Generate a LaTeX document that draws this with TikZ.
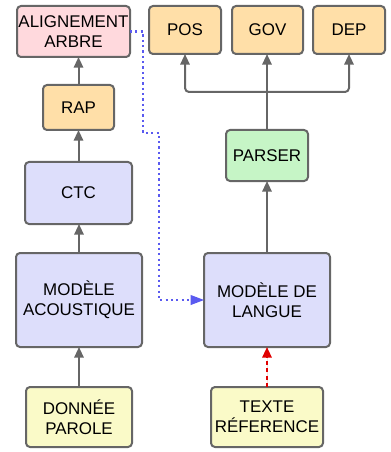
\documentclass[tikz,border=0pt]{standalone}
\usepackage{fontspec}
\setmainfont{Liberation Sans}
\usetikzlibrary{arrows.meta}
\definecolor{bordc}{HTML}{666666}
\definecolor{pinkf}{HTML}{FFD9DD}
\definecolor{orangef}{HTML}{FFDFA8}
\definecolor{bluef}{HTML}{DDDEFB}
\definecolor{greenf}{HTML}{C6F5C6}
\definecolor{yellowf}{HTML}{FAFAC8}
\definecolor{dotblue}{HTML}{5A5AF0}
\definecolor{redc}{HTML}{E00000}
\tikzset{
  box/.style={draw=bordc, line width=1.5pt, rounded corners=3pt, inner sep=0pt, outer sep=0pt,
    align=center, font=\fontsize{12.7}{15}\selectfont},
  conn/.style={draw=bordc, line width=1.5pt, -{Triangle[length=8pt,width=7pt]}},
  plain/.style={draw=bordc, line width=1.5pt},
}
\begin{document}
\begin{tikzpicture}[x=0.75pt, y=-0.75pt]
\useasboundingbox (0,0) rectangle (391,452);
% left column
\node[box, fill=pinkf, minimum width={113*0.75pt}, minimum height={51*0.75pt}] (al) at (73.5,31.5) {ALIGNEMENT\\ARBRE};
\node[box, fill=orangef, minimum width={71*0.75pt}, minimum height={45*0.75pt}] (rap) at (78.5,107.5) {RAP};
\node[box, fill=bluef, minimum width={107*0.75pt}, minimum height={62*0.75pt}] (ctc) at (78.5,193) {CTC};
\node[box, fill=bluef, minimum width={126*0.75pt}, minimum height={94*0.75pt}] (ma) at (79,300) {MODÈLE\\ACOUSTIQUE};
\node[box, fill=yellowf, minimum width={106*0.75pt}, minimum height={60*0.75pt}] (dp) at (79,417) {DONNÉE\\PAROLE};
% right column
\node[box, fill=orangef, minimum width={72*0.75pt}, minimum height={48*0.75pt}] (pos) at (185,30) {POS};
\node[box, fill=orangef, minimum width={71*0.75pt}, minimum height={48*0.75pt}] (gov) at (267.5,30) {GOV};
\node[box, fill=orangef, minimum width={72*0.75pt}, minimum height={48*0.75pt}] (dep) at (349,30) {DEP};
\node[box, fill=greenf, minimum width={82*0.75pt}, minimum height={51*0.75pt}] (parser) at (267,155.5) {PARSER};
\node[box, fill=bluef, minimum width={126*0.75pt}, minimum height={94*0.75pt}] (ml) at (267,300) {MODÈLE DE\\LANGUE};
\node[box, fill=yellowf, minimum width={112*0.75pt}, minimum height={60*0.75pt}] (tr) at (267,417) {TEXTE\\RÉFERENCE};
% left connectors
\draw[conn] (dp.north) -- (ma.south);
\draw[conn] (ma.north) -- (ma.north |- ctc.south);
\draw[conn] (ctc.north) -- (ctc.north |- rap.south);
\draw[conn] (rap.north) -- (rap.north |- al.south);
% right connectors
\draw[conn, draw=redc, fill=redc, dash pattern=on 3pt off 2.5pt] (tr.north) -- (ml.south);
\draw[conn] (ml.north) -- (parser.south);
\coordinate (j) at (267,92);
\draw[plain] (parser.north) -- (j);
\draw[conn, rounded corners=3pt] (j) -| (pos.south);
\draw[conn, rounded corners=3pt] (j) -| (dep.south);
\draw[conn] (j) -- (j |- gov.south);
% blue dotted
\coordinate (b1) at (143,31.5);
\coordinate (b2) at (143,133);
\coordinate (b3) at (159,133);
\coordinate (b4) at (159,300);
\draw[draw=dotblue, line width=1.6pt, dash pattern=on 1.6pt off 2.4pt] (al.east) -- (b1) -- (b2) -- (b3) -- (b4) -- ([xshift=-9pt]ml.west);
\draw[draw=none, fill=dotblue] (ml.west) -- ++(-10pt,3.8pt) -- ++(0,-7.6pt) -- cycle;
\end{tikzpicture}
\end{document}
